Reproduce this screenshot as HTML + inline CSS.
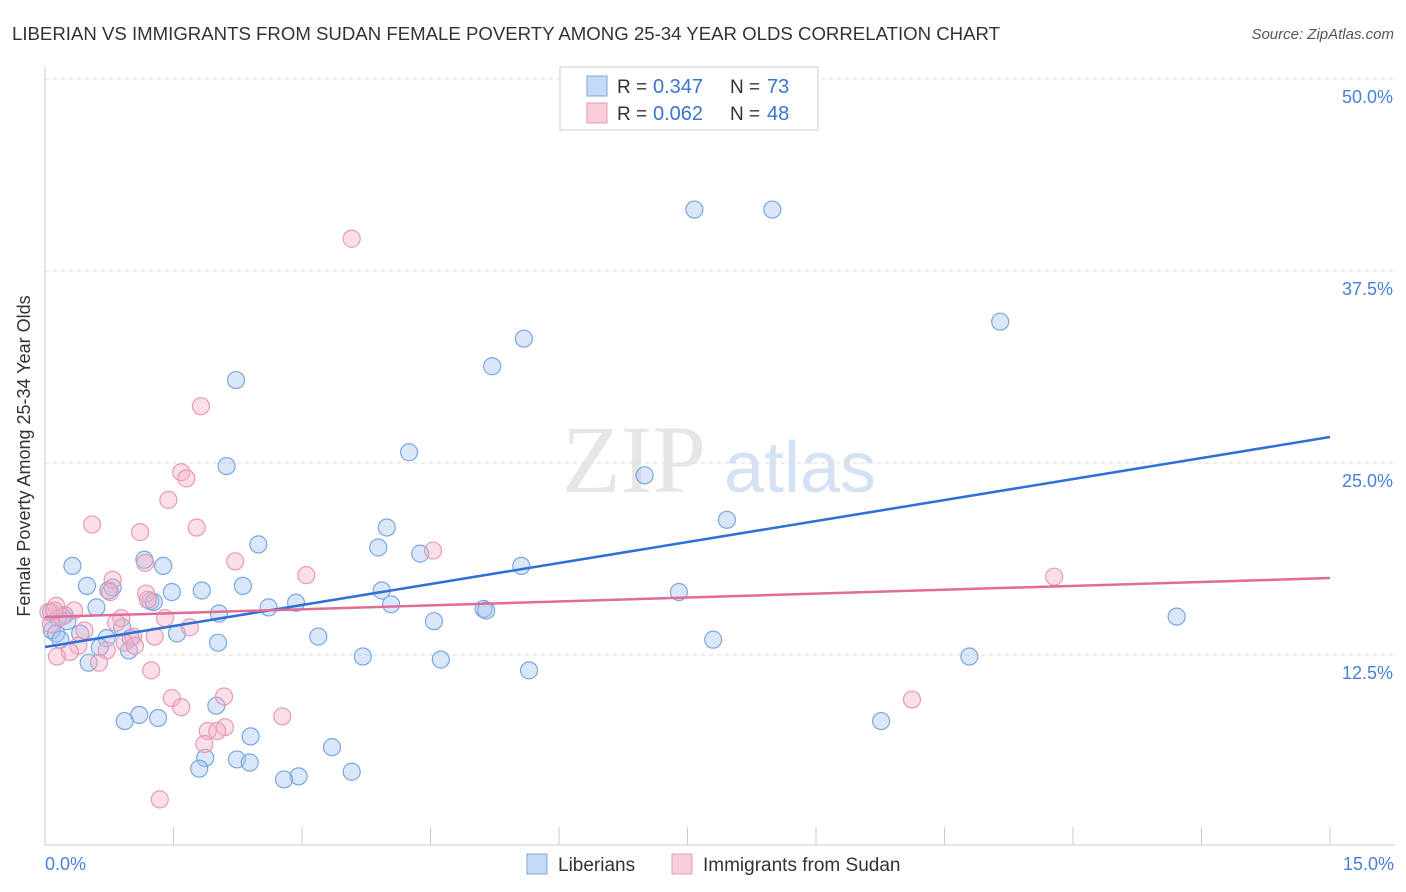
<!DOCTYPE html>
<html><head><meta charset="utf-8"><style>
body{margin:0;background:#fff;font-family:"Liberation Sans",sans-serif;}
svg{display:block}
</style></head><body>
<svg width="1406" height="892" id="chart">
<text x="12" y="40" font-size="18" fill="#333" textLength="988" lengthAdjust="spacingAndGlyphs">LIBERIAN VS IMMIGRANTS FROM SUDAN FEMALE POVERTY AMONG 25-34 YEAR OLDS CORRELATION CHART</text>
<text x="1394" y="39" font-size="15" fill="#555" font-style="italic" text-anchor="end">Source: ZipAtlas.com</text>
<text x="634" y="492" font-size="96" fill="#e6e6e6" font-family="Liberation Serif" text-anchor="middle">ZIP</text>
<text x="800" y="492" font-size="72" fill="#d5e2f3" text-anchor="middle">atlas</text>
<g id="grid"></g>
<g id="ticks"></g>
<line x1="45" y1="67" x2="45" y2="845" stroke="#ccc"/>
<line x1="45" y1="845" x2="1395" y2="845" stroke="#ccc"/>
<text x="30" y="456" font-size="18" fill="#333" text-anchor="middle" transform="rotate(-90 30 456)">Female Poverty Among 25-34 Year Olds</text>
<text x="45" y="870" font-size="18" fill="#4a7fd6">0.0%</text>
<text x="1394" y="870" font-size="18" fill="#4a7fd6" text-anchor="end">15.0%</text>
<g id="pts"></g>
<g id="trends"></g>
<g>
<rect x="560" y="67" width="258" height="63" fill="#fff" stroke="#ccc"/>
<rect x="587" y="76" width="20" height="20" fill="#c6daf6" stroke="#7aa7e0"/>
<rect x="587" y="103" width="20" height="20" fill="#f9ccd9" stroke="#e89ab4"/>
<text x="617" y="93" font-size="19" fill="#333">R =</text>
<text x="653" y="93" font-size="20" fill="#3a73d0">0.347</text>
<text x="730" y="93" font-size="19" fill="#333">N =</text>
<text x="767" y="93" font-size="20" fill="#3a73d0">73</text>
<text x="617" y="120" font-size="19" fill="#333">R =</text>
<text x="653" y="120" font-size="20" fill="#3a73d0">0.062</text>
<text x="730" y="120" font-size="19" fill="#333">N =</text>
<text x="767" y="120" font-size="20" fill="#3a73d0">48</text>
</g>
<g>
<rect x="527" y="854" width="20" height="20" fill="#c6daf6" stroke="#7aa7e0"/>
<text x="558" y="871" font-size="19" fill="#333">Liberians</text>
<rect x="672" y="854" width="20" height="20" fill="#f9ccd9" stroke="#e89ab4"/>
<text x="703" y="871" font-size="19" fill="#333">Immigrants from Sudan</text>
</g>
</svg>
<script>
const yTicks=[12.5,25,37.5,50];
const yTickLabels=["12.5%","25.0%","37.5%","50.0%"];
const xTicks=[0,1.5,3,4.5,6,7.5,9,10.5,12,13.5,15];
const blueX=[7.58,8.49,11.15,5.59,5.22,2.23,4.25,2.12,7.00,7.96,3.99,2.49,3.89,4.38,1.16,0.32,1.38,5.56,0.49,0.79,2.31,1.48,1.83,3.93,7.40,1.23,1.27,0.60,2.61,2.93,4.04,5.12,5.15,13.21,4.54,2.03,0.07,0.15,0.23,0.08,0.41,0.90,1.54,3.19,0.72,1.00,7.80,2.02,0.64,0.98,3.71,4.62,10.79,0.51,5.65,2.00,1.10,0.93,1.32,9.76,2.40,3.35,1.87,2.24,2.39,1.80,3.58,2.96,2.79,0.74,0.13,0.26,0.18];
const blueY=[41.5,41.5,34.2,33.1,31.3,30.4,25.7,24.8,24.2,21.3,20.8,19.7,19.5,19.1,18.7,18.3,18.3,18.3,17.0,16.9,17.0,16.6,16.7,16.7,16.6,16.0,15.95,15.6,15.6,15.9,15.8,15.5,15.4,15.0,14.7,15.2,15.3,14.9,15.1,14.1,13.9,14.3,13.9,13.7,13.6,13.6,13.5,13.3,13.0,12.8,12.4,12.2,12.4,12.0,11.5,9.2,8.6,8.2,8.4,8.2,7.2,6.5,5.8,5.7,5.5,5.1,4.9,4.6,4.4,16.7,13.9,14.7,13.5];
const pinkX=[3.58,1.82,1.59,1.65,1.44,0.55,1.77,1.11,4.53,2.22,1.17,3.05,11.78,0.79,0.76,1.18,1.20,0.34,0.13,0.20,1.40,0.89,0.83,0.07,1.69,0.46,1.28,1.03,0.93,1.05,0.39,0.72,0.29,0.14,0.63,1.24,1.48,2.09,10.12,1.59,2.77,1.90,2.10,2.01,1.86,1.34,0.04,0.11];
const pinkY=[39.6,28.7,24.4,24.0,22.6,21.0,20.8,20.5,19.3,18.6,18.5,17.7,17.6,17.4,16.6,16.5,16.1,15.4,15.7,15.0,14.9,14.9,14.6,14.5,14.3,14.1,13.7,13.7,13.3,13.1,13.1,12.8,12.7,12.4,12.0,11.5,9.7,9.8,9.6,9.1,8.5,7.55,7.8,7.55,6.7,3.1,15.3,15.4];
const blueTrend=[13.02,26.69];
const pinkTrend=[14.97,17.51];
const NS='http://www.w3.org/2000/svg';
const sx=v=>45+v/15*1285;
const sy=v=>847-v/12.5*192;
function mk(tag,attrs,parent){const e=document.createElementNS(NS,tag);for(const k in attrs)e.setAttribute(k,attrs[k]);document.getElementById(parent).appendChild(e);return e;}
yTicks.forEach((t,i)=>{
 const l=mk('line',{x1:45,x2:1395,y1:sy(t),y2:sy(t),stroke:'#ddd','stroke-dasharray':'4,4'},'grid');
 
 
 const tx=mk('text',{x:1393,y:sy(t)+24,'font-size':18,fill:'#4a7fd6','text-anchor':'end'},'grid');
 tx.textContent=yTickLabels[i];
 
 
});
xTicks.forEach(t=>{
 const l=mk('line',{x1:sx(t),x2:sx(t),y1:827,y2:845,stroke:'#ccc'},'ticks');
 
 
});
function pts(xs,ys,fill,stroke,name){
 xs.forEach((x,i)=>{
  const c=mk('circle',{cx:sx(x),cy:sy(ys[i]),r:8.5,fill:fill,stroke:stroke,'stroke-width':1.2},'pts');
  
  
 });
}
pts(blueX,blueY,'rgba(160,196,240,0.4)','#7aa7e0','liberian-point');
pts(pinkX,pinkY,'rgba(245,175,198,0.4)','#e89ab4','sudan-point');
const bl=mk('line',{x1:sx(0),y1:sy(blueTrend[0]),x2:sx(15),y2:sy(blueTrend[1]),stroke:'#2f6fd6','stroke-width':2.5},'trends');


const pl=mk('line',{x1:sx(0),y1:sy(pinkTrend[0]),x2:sx(15),y2:sy(pinkTrend[1]),stroke:'#e06c98','stroke-width':2.5},'trends');


</script>
</body></html>
